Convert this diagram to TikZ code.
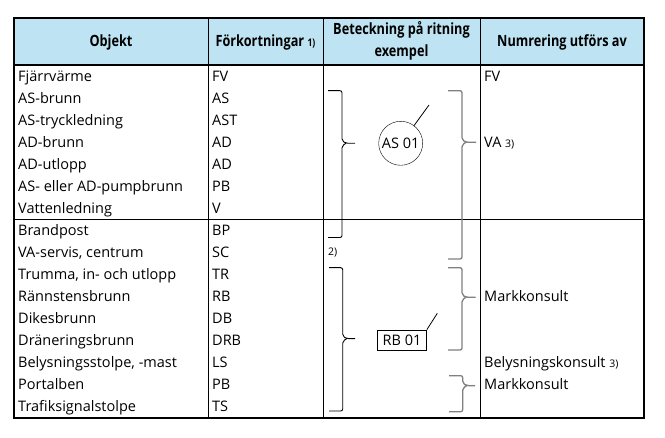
\documentclass[tikz,border=0pt]{standalone}
\usepackage{fontspec}
\setmainfont{Open Sans}
\newfontfamily\headfont[FakeStretch=0.82]{Open Sans}
\usepackage{tikz}
\usetikzlibrary{positioning}
\definecolor{headblue}{RGB}{190,228,243}
\definecolor{bracegray}{RGB}{128,128,128}
\newcommand{\notemark}[1]{{\fontsize{10.5}{12}\selectfont #1}}
\tikzstyle{txt}    = [anchor=base west, inner sep=0pt, font=\fontsize{14.5}{16}\selectfont]
\tikzstyle{head}   = [inner sep=0pt, align=center, font=\headfont\bfseries\fontsize{15.5}{22}\selectfont]
\tikzstyle{thick}  = [draw, line width=2pt]
\tikzstyle{thin}   = [draw, line width=1pt]
\tikzstyle{lbrace} = [draw, line width=0.9pt, rounded corners=2pt]
\tikzstyle{rbrace} = [draw=bracegray, line width=1.3pt, rounded corners=2pt]

\begin{document}
\begin{tikzpicture}[x=1pt, y=-1pt]
\useasboundingbox (0,0) rectangle (665,438);

% table
\fill [headblue] (14,18) rectangle (644,65);
\path [thin]  (208,18) -- (208,418)
              (323,18) -- (323,418)
              (480,18) -- (480,418)
              (14,219.3) -- (644,219.3);
\path [thick] (14,65) -- (644,65);
\path [thick] (14,18) rectangle (644,418);

% header
\node [head] at (111,42)   (objekt) {Objekt};
\node [head] at (265.5,42) (fork)   {Förkortningar \notemark{1)}};
\node [head] at (401.5,41) (betek)  {Beteckning på ritning\\exempel};
\node [head] at (562,42)   (numr)   {Numrering utförs av};

% rows
\node [txt] at (18,81.7)  (o1)  {Fjärrvärme};              \node [txt] at (212,81.7)  (a1)  {FV};
\node [txt] at (18,103.7) (o2)  {AS-brunn};                \node [txt] at (212,103.7) (a2)  {AS};
\node [txt] at (18,125.7) (o3)  {AS-tryckledning};         \node [txt] at (212,125.7) (a3)  {AST};
\node [txt] at (18,147.7) (o4)  {AD-brunn};                \node [txt] at (212,147.7) (a4)  {AD};
\node [txt] at (18,169.7) (o5)  {AD-utlopp};               \node [txt] at (212,169.7) (a5)  {AD};
\node [txt] at (18,191.7) (o6)  {AS- eller AD-pumpbrunn};  \node [txt] at (212,191.7) (a6)  {PB};
\node [txt] at (18,213.7) (o7)  {Vattenledning};           \node [txt] at (212,213.7) (a7)  {V};
\node [txt] at (18,235.7) (o8)  {Brandpost};               \node [txt] at (212,235.7) (a8)  {BP};
\node [txt] at (18,257.7) (o9)  {VA-servis, centrum};      \node [txt] at (212,257.7) (a9)  {SC};
\node [txt] at (18,279.7) (o10) {Trumma, in- och utlopp};  \node [txt] at (212,279.7) (a10) {TR};
\node [txt] at (18,301.7) (o11) {Rännstensbrunn};          \node [txt] at (212,301.7) (a11) {RB};
\node [txt] at (18,323.7) (o12) {Dikesbrunn};              \node [txt] at (212,323.7) (a12) {DB};
\node [txt] at (18,345.7) (o13) {Dräneringsbrunn};         \node [txt] at (212,345.7) (a13) {DRB};
\node [txt] at (18,367.7) (o14) {Belysningsstolpe, -mast}; \node [txt] at (212,367.7) (a14) {LS};
\node [txt] at (18,389.7) (o15) {Portalben};               \node [txt] at (212,389.7) (a15) {PB};
\node [txt] at (18,411.7) (o16) {Trafiksignalstolpe};      \node [txt] at (212,411.7) (a16) {TS};

% numbering
\node [txt] at (484,81.7)  (n1) {FV};
\node [txt] at (484,147.7) (n2) {VA \notemark{3)}};
\node [txt] at (484,301.7) (n3) {Markkonsult};
\node [txt] at (484,367.7) (n4) {Belysningskonsult \notemark{3)}};
\node [txt] at (484,389.7) (n5) {Markkonsult};
\node [txt] at (328,256)   (note2) {\notemark{2)}};

% examples
\node [draw, circle, minimum size=44pt, inner sep=0pt, font=\fontsize{14.5}{16}\selectfont] at (400.7,143.3) (as) {AS 01};
\coordinate (asend) at (429,105);
\draw [line width=0.8pt] (as.53) -- (asend);
\node [draw, minimum width=49pt, minimum height=20pt, inner sep=0pt, line width=0.8pt, font=\fontsize{14.5}{16}\selectfont] at (402,340) (rb) {RB 01};
\coordinate (rbend) at (437.3,313.3);
\draw [line width=0.8pt] (rb.north east) -- (rbend);

% braces
\path [lbrace] (328,90.7) -| (342,140.8) -- (346,143.3) -- (355,143.3)
               (346,143.3) -- (342,145.8) |- (328,237.5);
\path [rbrace] (448,90.7) -| (462,139.8) -- (466,142.3) -- (476,142.3)
               (466,142.3) -- (462,144.8) |- (448,259);
\path [lbrace] (329,267.7) -| (342.7,336.2) -- (346.7,338.7) -- (355,338.7)
               (346.7,338.7) -- (342.7,341.2) |- (329,411);
\path [rbrace] (448,267.7) -| (462,294.8) -- (466,297.3) -- (475.7,297.3)
               (466,297.3) -- (462,299.8) |- (448,350);
\path [rbrace] (449,375.7) -| (462.7,383.2) -- (466.7,385.7) -- (475,385.7)
               (466.7,385.7) -- (462.7,388.2) |- (449,411.7);

\end{tikzpicture}
\end{document}
